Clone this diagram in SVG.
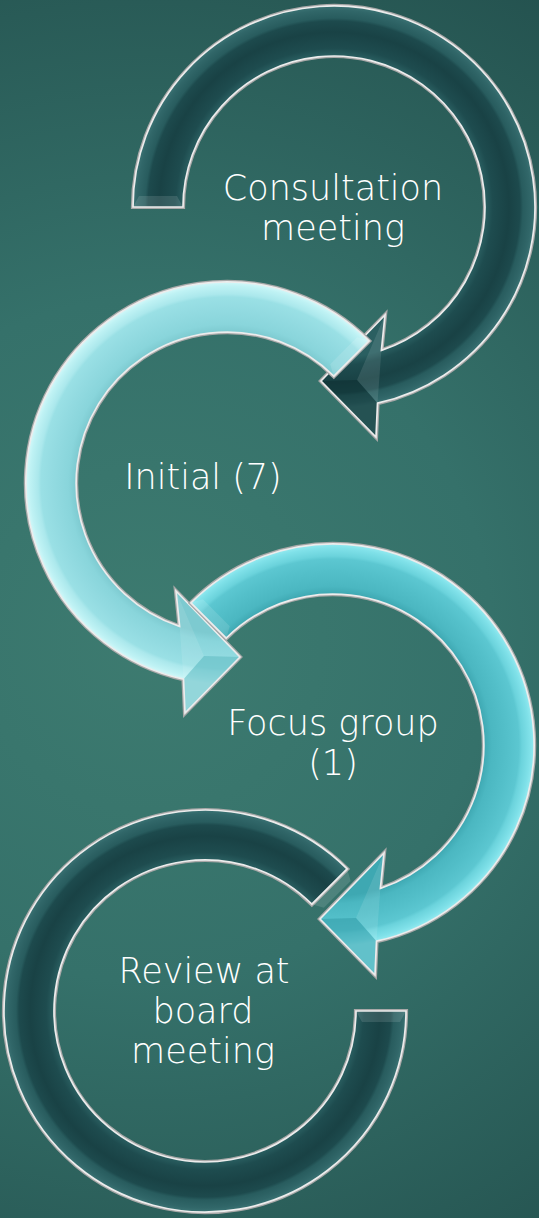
<svg xmlns="http://www.w3.org/2000/svg" xmlns:xlink="http://www.w3.org/1999/xlink" width="539" height="1218" viewBox="0 0 539 1218">
  <defs>
    <radialGradient id="bg" gradientUnits="userSpaceOnUse" cx="150" cy="640" r="760">
      <stop offset="0" stop-color="#3d7b70"/>
      <stop offset="0.45" stop-color="#35716a"/>
      <stop offset="1" stop-color="#24524f"/>
    </radialGradient>
    <radialGradient id="gDark" gradientUnits="userSpaceOnUse" cx="0" cy="0" r="201">
      <stop offset="0.751" stop-color="#2a5f61"/>
      <stop offset="0.79" stop-color="#1e4c4f"/>
      <stop offset="0.87" stop-color="#194245"/>
      <stop offset="0.925" stop-color="#1d4a4d"/>
      <stop offset="0.94" stop-color="#285c5e"/>
      <stop offset="0.98" stop-color="#316769"/>
      <stop offset="1" stop-color="#3b7374"/>
    </radialGradient>
    <radialGradient id="gLight" gradientUnits="userSpaceOnUse" cx="0" cy="0" r="201">
      <stop offset="0.751" stop-color="#7dcad0"/>
      <stop offset="0.79" stop-color="#89d5db"/>
      <stop offset="0.87" stop-color="#93dbe1"/>
      <stop offset="0.925" stop-color="#9ae0e5"/>
      <stop offset="0.94" stop-color="#abe8ec"/>
      <stop offset="0.98" stop-color="#bff2f4"/>
      <stop offset="1" stop-color="#d2f8f9"/>
    </radialGradient>
    <radialGradient id="gMid" gradientUnits="userSpaceOnUse" cx="0" cy="0" r="201">
      <stop offset="0.751" stop-color="#3ea8b2"/>
      <stop offset="0.79" stop-color="#4bb7c1"/>
      <stop offset="0.87" stop-color="#54c0ca"/>
      <stop offset="0.925" stop-color="#5cc7d1"/>
      <stop offset="0.94" stop-color="#6bd3dc"/>
      <stop offset="0.98" stop-color="#80e1e9"/>
      <stop offset="1" stop-color="#94eaf0"/>
    </radialGradient>
    <path id="arrowA" d="M -201 0 A 201 201 0 1 1 43.5 196.2 L 42 230 L -13 174 L 51 108 L 47.4 143.4 A 151 151 0 1 0 -151 0 Z"/>
    <path id="arrowB" d="M -142.1 -142.1 A 201 201 0 1 1 43.5 196.2 L 42 230 L -13 174 L 51 108 L 47.4 143.4 A 151 151 0 1 0 -106.8 -106.8 Z"/>
    <path id="ring" d="M 142.1 -142.1 A 201 201 0 1 0 201 0 L 151 0 A 151 151 0 1 1 106.8 -106.8 Z"/>
    <polygon id="facetUp" points="51,108 47.4,143.4 43.5,196.2 23,173"/>
    <polygon id="facetLow" points="-13,174 23,173 43.5,196.2 42,230"/>
    <polygon id="bevelEnd" points="-201,0 -151,0 -157,-11 -195,-11"/>
  </defs>
  <style>
    .edge { fill: none; stroke: #a8a8a8; stroke-width: 4.2; stroke-linejoin: miter; }
    .hi { fill: none; stroke: #ececec; stroke-width: 1.7; stroke-linejoin: miter; }
    .dark { fill: url(#gDark); }
    .light { fill: url(#gLight); }
    .mid { fill: url(#gMid); }
    .up { fill: #ffffff; fill-opacity: 0.1; }
    .lowDark { fill: #0c2a2c; fill-opacity: 0.45; }
    .lowLight { fill: #5fb9c1; fill-opacity: 0.55; }
    .lowMid { fill: #2f98a3; fill-opacity: 0.5; }
    .bev { fill: #ffffff; fill-opacity: 0.12; }
    .label { fill: #ffffff; font-family: "DejaVu Sans", "Liberation Sans", sans-serif; font-weight: 200; font-size: 35px; text-anchor: middle; }
  </style>
  <rect x="0" y="0" width="539" height="1218" fill="url(#bg)"/>

  <g id="connectors"></g>

  <g id="node1-consultation">
    <g transform="translate(334,207)">
      <use xlink:href="#arrowA" href="#arrowA" class="edge"/>
      <use xlink:href="#arrowA" href="#arrowA" class="dark"/>
      <use xlink:href="#facetUp" href="#facetUp" class="up"/>
      <use xlink:href="#facetLow" href="#facetLow" class="lowDark"/>
      <use xlink:href="#bevelEnd" href="#bevelEnd" class="bev"/>
      <use xlink:href="#arrowA" href="#arrowA" class="hi"/>
    </g>
    <text class="label" x="333" y="200">Consultation</text>
    <text class="label" x="333" y="240">meeting</text>
  </g>

  <g id="node2-initial">
    <g transform="translate(227,483) scale(-1,1)">
      <use xlink:href="#arrowB" href="#arrowB" class="edge"/>
      <use xlink:href="#arrowB" href="#arrowB" class="light"/>
      <use xlink:href="#facetUp" href="#facetUp" class="up"/>
      <use xlink:href="#facetLow" href="#facetLow" class="lowLight"/>
      <use xlink:href="#bevelEnd" href="#bevelEnd" class="bev" transform="rotate(45)"/>
      <use xlink:href="#arrowB" href="#arrowB" class="hi"/>
    </g>
    <text class="label" x="203" y="489">Initial (7)</text>
  </g>

  <g id="node3-focus">
    <g transform="translate(333,745)">
      <use xlink:href="#arrowB" href="#arrowB" class="edge"/>
      <use xlink:href="#arrowB" href="#arrowB" class="mid"/>
      <use xlink:href="#facetUp" href="#facetUp" class="up"/>
      <use xlink:href="#facetLow" href="#facetLow" class="lowMid"/>
      <use xlink:href="#bevelEnd" href="#bevelEnd" class="bev" transform="rotate(45)"/>
      <use xlink:href="#arrowB" href="#arrowB" class="hi"/>
    </g>
    <text class="label" x="333" y="735">Focus group</text>
    <text class="label" x="333" y="775">(1)</text>
  </g>

  <g id="node4-review">
    <g transform="translate(205,1011)">
      <use xlink:href="#ring" href="#ring" class="edge"/>
      <use xlink:href="#ring" href="#ring" class="dark"/>
      <use xlink:href="#bevelEnd" href="#bevelEnd" class="bev" transform="scale(-1,-1)"/>
      <use xlink:href="#bevelEnd" href="#bevelEnd" class="bev" transform="rotate(135)"/>
      <use xlink:href="#ring" href="#ring" class="hi"/>
    </g>
    <text class="label" x="204" y="983">Review at</text>
    <text class="label" x="203" y="1023">board</text>
    <text class="label" x="203" y="1063">meeting</text>
  </g>
</svg>
